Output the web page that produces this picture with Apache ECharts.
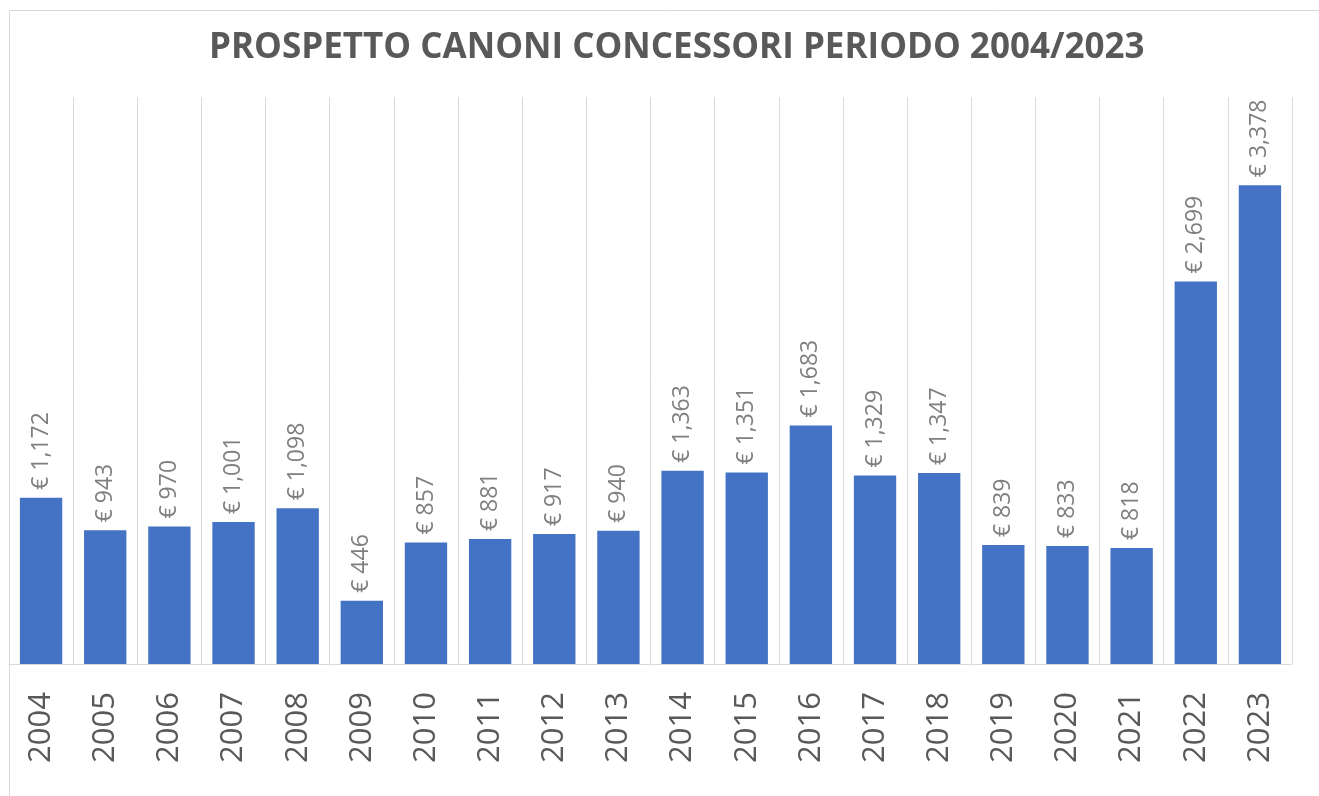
<!DOCTYPE html>
<html>
<head>
<meta charset="utf-8">
<script src="https://cdn.jsdelivr.net/npm/echarts@6/dist/echarts.min.js"></script>
<style>
  html, body { margin: 0; padding: 0; background: #fff; }
  #chart { width: 1319px; height: 796px; }
</style>
</head>
<body>
<div id="chart"></div>
<script>
const years = ['2004', '2005', '2006', '2007', '2008', '2009', '2010', '2011', '2012', '2013',
  '2014', '2015', '2016', '2017', '2018', '2019', '2020', '2021', '2022', '2023']
const canoni = [1172, 943, 970, 1001, 1098, 446, 857, 881, 917, 940,
  1363, 1351, 1683, 1329, 1347, 839, 833, 818, 2699, 3378]
const titleText = 'PROSPETTO CANONI CONCESSORI PERIODO 2004/2023'

const chart = echarts.init(document.getElementById('chart'))

chart.setOption({
  animation: false,
  backgroundColor: '#fff',
  title: {
    text: titleText,
    left: 204,
    top: 26,
    textStyle: { fontFamily: 'Open Sans', fontWeight: 'bold', fontSize: 35, color: '#595959' },
  },
  graphic: [
    {
      type: 'rect',
      shape: { x: 9.5, y: 10.5, width: 1400, height: 900 },
      style: { fill: 'none', stroke: '#d9d9d9', lineWidth: 1 },
      silent: true,
    },
  ],
  grid: { left: 9, right: 27, top: 97, bottom: 132 },
  xAxis: {
    type: 'category',
    data: years,
    axisLine: { lineStyle: { color: '#d9d9d9' } },
    axisTick: { show: false },
    splitLine: { show: true, lineStyle: { color: '#d9d9d9' } },
    axisLabel: {
      rotate: 90,
      margin: 28,
      fontFamily: 'Open Sans',
      fontSize: 31,
      color: '#595959',
    },
  },
  yAxis: {
    type: 'value',
    min: 0,
    max: 4000,
    show: false,
    splitLine: { show: false },
  },
  series: [
    {
      type: 'bar',
      data: canoni,
      barWidth: '66%',
      itemStyle: { color: '#4472C4' },
      label: {
        show: true,
        position: 'top',
        rotate: 90,
        align: 'left',
        verticalAlign: 'middle',
        distance: 8,
        fontFamily: 'Open Sans',
        fontSize: 23,
        color: '#7f7f7f',
        formatter: (p) => '€ ' + p.value.toLocaleString('en-US'),
      },
    },
  ],
})
</script>
</body>
</html>
